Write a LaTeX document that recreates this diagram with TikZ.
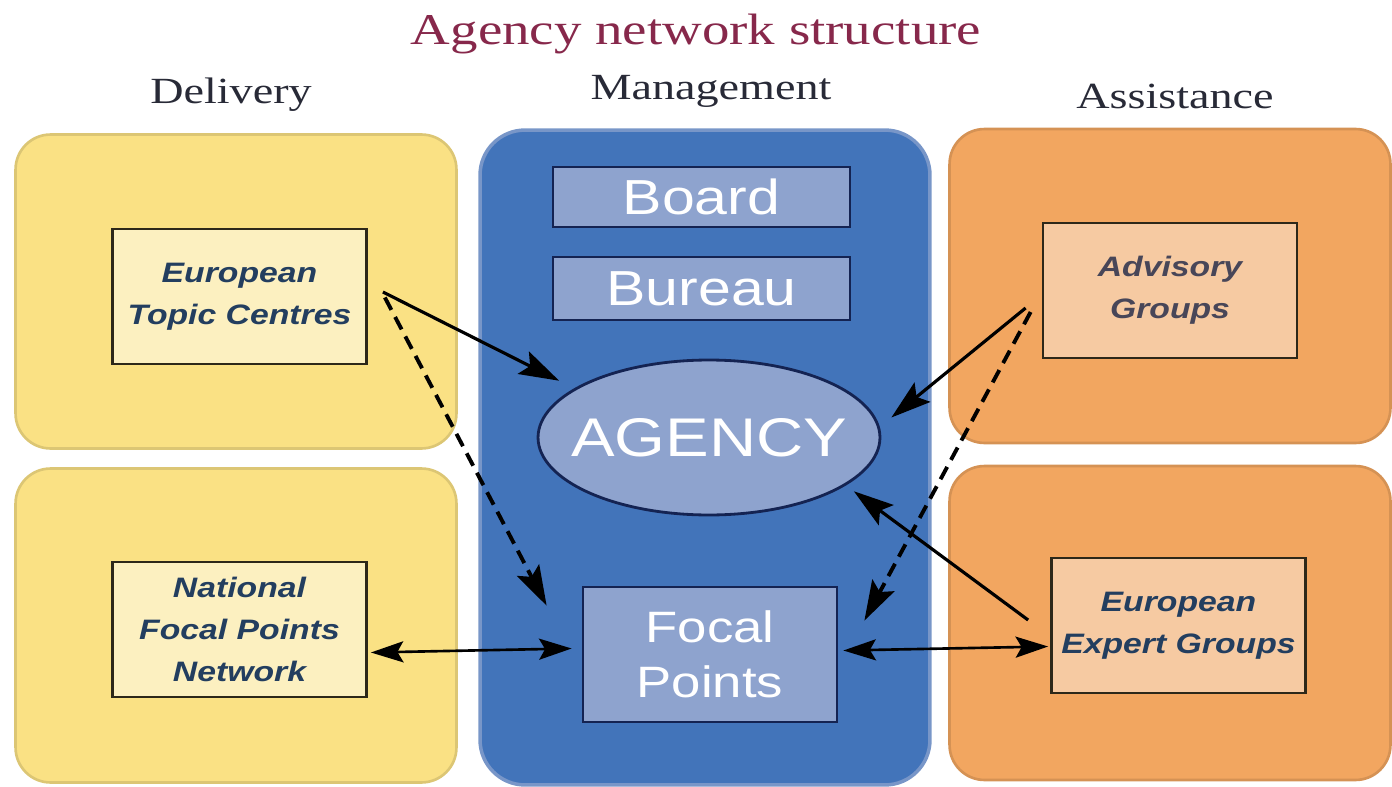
\documentclass[tikz,border=0pt]{standalone}
\usepackage{fontspec}
\usepackage{tikz}
\usetikzlibrary{calc,positioning,arrows.meta,shapes.geometric}

\newfontfamily\serifwide{Liberation Serif}[FakeStretch=1.25]
\newfontfamily\sanswide{Liberation Sans}[FakeStretch=1.2]

\definecolor{yellowpanel}{RGB}{250,225,132}
\definecolor{yellowbox}{RGB}{252,240,192}
\definecolor{orangepanel}{RGB}{242,166,96}
\definecolor{orangebox}{RGB}{246,202,162}
\definecolor{bluepanel}{RGB}{66,116,186}
\definecolor{blueedge}{RGB}{120,150,200}
\definecolor{bluebox}{RGB}{142,163,206}
\definecolor{navyline}{RGB}{20,35,82}
\definecolor{boxline}{RGB}{45,40,25}
\definecolor{titlered}{RGB}{135,40,75}
\definecolor{headtext}{RGB}{40,42,55}
\definecolor{deeptext}{RGB}{35,62,95}
\definecolor{greytext}{RGB}{72,70,88}

\begin{document}
\begin{tikzpicture}[
  x=0.02cm, y=-0.02cm,
  panel/.style={rectangle,rounded corners=0.7cm,line width=1.5pt,minimum width=8.82cm,minimum height=6.28cm},
  inner box/.style={rectangle,draw=boxline,line width=1.6pt,minimum width=5.08cm,minimum height=2.7cm,align=center,font=\sanswide\bfseries\itshape\fontsize{16}{24}\selectfont},
  blue box/.style={rectangle,draw=navyline,line width=1.6pt,fill=bluebox,text=white,font=\sanswide\fontsize{28}{32}\selectfont},
  heading/.style={font=\serifwide\fontsize{21}{24}\selectfont,text=headtext},
  link/.style={line width=1.8pt,-{Stealth[length=8mm,width=5mm,inset=1.5mm]}},
  dashed link/.style={link,line width=2.2pt,dash pattern=on 2.8mm off 1.6mm},
  both link/.style={line width=1.5pt,{Stealth[length=6.5mm,width=4.2mm,inset=1.2mm]}-{Stealth[length=6.5mm,width=4.2mm,inset=1.2mm]}},
  ]

  \useasboundingbox (0,0) rectangle (1392,787);

  % titles
  \node (title) [font=\serifwide\fontsize{25}{28}\selectfont,text=titlered] at (696,34) {Agency network structure};
  \node (head_delivery) [heading] at (231,95) {Delivery};
  \node (head_mgmt) [heading] at (711,91) {Management};
  \node (head_assist) [heading] at (1175,96) {Assistance};

  % side panels
  \foreach \id/\cx/\cy/\col in {0/236/291.5/yellowpanel, 1/236/625.5/yellowpanel, 2/1170/286/orangepanel, 3/1170/623/orangepanel}
  {
    \node (panel_\id) [panel,fill=\col,draw=\col!88!black] at (\cx,\cy) {};
  }

  % management panel
  \node (panel_mgmt) [panel,rounded corners=0.9cm,line width=2pt,fill=bluepanel,draw=blueedge,minimum width=9cm,minimum height=13.1cm] at (705,457.5) {};

  \node (box_etc) [inner box,fill=yellowbox,text=deeptext] at($(panel_0.center)+(3.5,5)$) {European\\Topic Centres};
  \node (box_nfp) [inner box,fill=yellowbox,text=deeptext] at($(panel_1.center)+(3.5,4)$) {National\\Focal Points\\Network};
  \node (box_advisory) [inner box,fill=orangebox,text=greytext] at($(panel_2.center)+(0,4.5)$) {Advisory\\Groups};
  \node (box_expert) [inner box,fill=orangebox,text=deeptext] at($(panel_3.center)+(8.5,2.5)$) {European\\Expert Groups};

  \node (box_board) [blue box,minimum width=5.94cm,minimum height=1.2cm] at (701.5,197) {Board};
  \node (box_bureau) [blue box,minimum width=5.94cm,minimum height=1.26cm] at (701.5,288.5) {Bureau};
  \node (agency) [ellipse,draw=navyline,line width=1.6pt,fill=bluebox,text=white,minimum width=6.84cm,minimum height=3.1cm,inner sep=0pt,font=\sanswide\fontsize{31}{36}\selectfont] at (709,437.5) {\makebox[0pt]{AGENCY}};
  \node (box_focal) [blue box,minimum width=5.08cm,minimum height=2.7cm,align=center,font=\sanswide\fontsize{25}{31}\selectfont] at (710,654.5) {Focal\\Points};

  % connectors
  \draw[link] ($(box_etc.east)+(15,-4.5)$) -- ($(agency.north west)+(-28,-1)$);
  \draw[dashed link] ($(box_etc.east)+(17,1)$) -- ($(box_focal.north west)+(-35,20)$);
  \draw[link] ($(box_advisory.west)+(-16,17.5)$) -- ($(agency.east)+(10,-20)$);
  \draw[dashed link] ($(box_advisory.west)+(-11,21.5)$) -- ($(box_focal.north east)+(26,35)$);
  \draw[link] ($(box_expert.west)+(-22,-5.5)$) -- ($(agency.south east)+(23,-2)$);
  \draw[both link] ($(box_nfp.east)+(3,23)$) -- ($(box_focal.west)+(-10,-6)$);
  \draw[both link] ($(box_focal.east)+(5,-4)$) -- ($(box_expert.west)+(-2,21)$);

\end{tikzpicture}
\end{document}
